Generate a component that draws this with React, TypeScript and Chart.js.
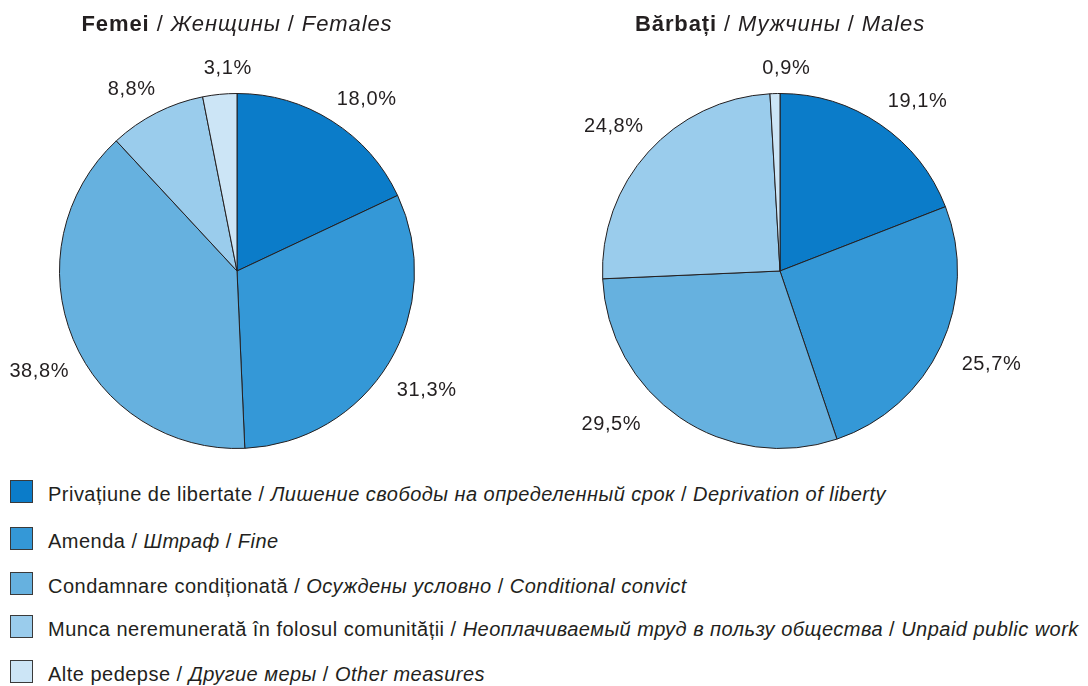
import React, { useEffect, useRef } from 'react';
import { Chart, registerables } from 'chart.js';
Chart.register(...registerables);

const legendRo = ['Privațiune de libertate', 'Amenda', 'Condamnare condiționată', 'Munca neremunerată în folosul comunității', 'Alte pedepse'];
const legendRu = ['Лишение свободы на определенный срок', 'Штраф', 'Осуждены условно', 'Неоплачиваемый труд в пользу общества', 'Другие меры'];
const legendEn = ['Deprivation of liberty', 'Fine', 'Conditional convict', 'Unpaid public work', 'Other measures'];

const femaleValues = [18.0, 31.3, 38.8, 8.8, 3.1];
const maleValues = [19.1, 25.7, 29.5, 24.8, 0.9];

const sliceColors = ['#0B7CC9', '#3498D7', '#66B1DF', '#9ACCEC', '#CCE5F6'];

const FONT = "'Liberation Sans', Arial, Helvetica, sans-serif";

const labelPlugin = {
  id: 'outerLabels',
  afterDatasetsDraw(chart: any, _args: any, opts: any) {
    const ctx = chart.ctx;
    const meta = chart.getDatasetMeta(0);
    const data = chart.data.datasets[0].data as number[];
    const shifts: number[] = opts.shifts || [];
    const gaps: number[] = opts.gaps || [];
    ctx.save();
    ctx.font = `20px ${FONT}`;
    try { (ctx as any).letterSpacing = '0.6px'; } catch (e) {}
    ctx.fillStyle = '#231F20';
    ctx.textAlign = 'center';
    ctx.textBaseline = 'middle';
    meta.data.forEach((arc: any, i: number) => {
      const p = arc.getProps(['x', 'y', 'startAngle', 'endAngle', 'outerRadius'], true);
      const mid = (p.startAngle + p.endAngle) / 2 + ((shifts[i] || 0) * Math.PI) / 180;
      const text = data[i].toFixed(1).replace('.', ',') + '%';
      const w = ctx.measureText(text).width;
      const h = 14;
      const cx = Math.cos(mid);
      const sy = Math.sin(mid);
      const ext = Math.abs(cx) * w / 2 + Math.abs(sy) * h / 2;
      const r = p.outerRadius + (gaps[i] ?? 17) + ext;
      ctx.fillText(text, p.x + cx * r, p.y + sy * r + 1);
    });
    ctx.restore();
  },
};

function PieCanvas(props: { values: number[]; padding: any; shifts: number[]; gaps: number[]; style: any }) {
  const ref = useRef<HTMLCanvasElement>(null);
  useEffect(() => {
    if (!ref.current) return;
    const chart = new Chart(ref.current, {
      type: 'pie',
      data: {
        labels: legendEn,
        datasets: [
          {
            data: props.values,
            backgroundColor: sliceColors,
            borderColor: '#231F20',
            borderWidth: 1,
            hoverOffset: 0,
            offset: 0,
          },
        ],
      },
      options: {
        animation: false,
        responsive: false,
        maintainAspectRatio: false,
        layout: { padding: props.padding },
        plugins: {
          legend: { display: false },
          tooltip: { enabled: false },
          outerLabels: { shifts: props.shifts, gaps: props.gaps },
        } as any,
      },
      plugins: [labelPlugin],
    });
    return () => chart.destroy();
  }, []);
  return <canvas ref={ref} width={props.style.width} height={props.style.height} style={{ position: 'absolute', ...props.style }} />;
}

const boxTops = [480, 527, 572, 615, 660];

export default function App() {
  return (
    <div style={{ position: 'fixed', left: 0, top: 0, width: 1088, height: 686, background: '#fff', fontFamily: FONT, color: '#231F20', overflow: 'hidden' }}>
      <PieCanvas
        values={femaleValues}
        padding={{ left: 59, right: 128, top: 93, bottom: 21 }}
        shifts={[4.5, 0.8, -4, -3, 3]}
        gaps={[15, 17, 14, 15, 18]}
        style={{ left: 0, top: 0, width: 543, height: 470 }}
      />
      <PieCanvas
        values={maleValues}
        padding={{ left: 59, right: 130, top: 93, bottom: 21 }}
        shifts={[4.6, -1.5, 13.5, -1, 3.4]}
        gaps={[17, 23, 23, 16, 18]}
        style={{ left: 543, top: 0, width: 545, height: 470 }}
      />
      <div style={{ position: 'absolute', left: 37, width: 400, top: 12, lineHeight: '24px', fontSize: 22, letterSpacing: '0.9px', textAlign: 'center', whiteSpace: 'nowrap' }}>
        <b>Femei</b> / <i>Женщины</i> / <i>Females</i>
      </div>
      <div style={{ position: 'absolute', left: 580, width: 400, top: 12, lineHeight: '24px', fontSize: 22, letterSpacing: '0.9px', textAlign: 'center', whiteSpace: 'nowrap' }}>
        <b>Bărbați</b> / <i>Мужчины</i> / <i>Males</i>
      </div>
      {legendRo.map((ro, i) => (
        <React.Fragment key={i}>
          <div style={{ position: 'absolute', left: 10, top: boxTops[i], width: 21, height: 21, background: sliceColors[i], border: '1px solid #3a3a3a' }} />
          <div style={{ position: 'absolute', left: 48, top: boxTops[i] + 2, lineHeight: '24px', fontSize: 20, letterSpacing: '0.48px', whiteSpace: 'nowrap' }}>
            {ro} / <i>{legendRu[i]}</i> / <i>{legendEn[i]}</i>
          </div>
        </React.Fragment>
      ))}
    </div>
  );
}
